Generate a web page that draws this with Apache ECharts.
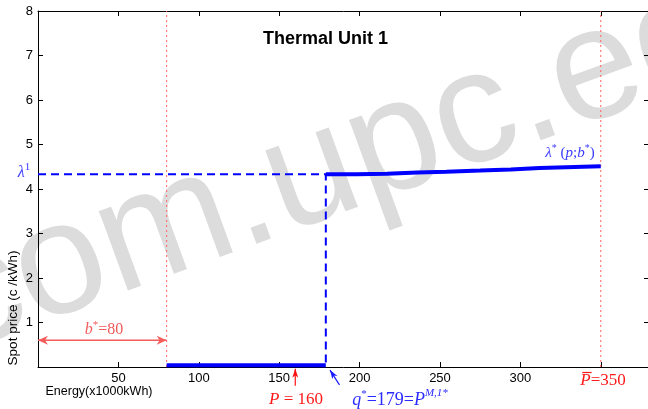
<!DOCTYPE html>
<html>
<head>
<meta charset="utf-8">
<script src="https://cdn.jsdelivr.net/npm/echarts@6/dist/echarts.min.js"></script>
<style>html,body{margin:0;padding:0;background:#fff}#c{width:648px;height:409px}</style>
</head>
<body>
<div id="c"></div>
<script>
// ---- data ----
const xTickLabels = [50, 100, 150, 200, 250, 300];
const yTickLabels = [1, 2, 3, 4, 5, 6, 7, 8];
const bStar = 80;          // b* = 80
const pMax = 350;          // P-bar = 350
const pLoad = 160;         // P = 160
const qStar = 179;         // q* = 179
const lambda1 = 4.33;      // lambda^1
const zeroLevel = 0.04;    // bid price segment (near zero)
const stepBreaks = [179, 198, 217, 236, 254, 275, 294, 312, 350];
const stepLevels = [4.33, 4.345, 4.37, 4.39, 4.415, 4.44, 4.47, 4.51];
const bArrowY = 0.6;

// step line points
const stepPts = [];
for (let i = 0; i < stepLevels.length; i++) {
  stepPts.push([stepBreaks[i], stepLevels[i]]);
  stepPts.push([stepBreaks[i + 1], stepLevels[i]]);
}

// annotation arrows (data space): x1,y1,x2,y2,headStart,headEnd
const arrows = [
  [0, bArrowY, bStar, bArrowY, 1, 1],
  [pLoad, -0.42, pLoad, -0.04, 0, 1],
  [187.5, -0.40, 181.6, -0.07, 0, 1]
];
const arrowColors = ['#f45c5c', '#ff1010', '#1a1aff'];
const arrowHeads = [[10, 4.5, 3], [9, 3, 2.5], [9, 3, 2.5]];

const chart = echarts.init(document.getElementById('c'), null, {renderer: 'canvas'});

const mctx = document.createElement('canvas').getContext('2d');
function fontStr(p) { return (p.it ? 'italic ' : '') + p.s + 'px "Liberation Serif"'; }
function mathText(cx, cy, pieces, color) {
  const w = pieces.map(p => { mctx.font = fontStr(p); return mctx.measureText(p.t).width; });
  const total = w.reduce((a, b) => a + b, 0);
  let x = cx - total / 2;
  const els = [];
  pieces.forEach((p, i) => {
    els.push({type: 'text', x: x, y: cy + (p.dy || 0), z: 100,
      style: {text: p.t, font: fontStr(p), fill: color, align: 'left', verticalAlign: 'middle'}});
    if (p.over) {
      els.push({type: 'line', z: 101, shape: {x1: x + 2, y1: cy - 8.5, x2: x + w[i] + 1, y2: cy - 8.5},
        style: {stroke: color, lineWidth: 1.2}});
    }
    x += w[i];
  });
  return els;
}

function headPoly(tip, dir, L, W, notch) {
  const nx = -dir[1], ny = dir[0];
  return [
    [tip[0], tip[1]],
    [tip[0] - dir[0] * L + nx * W, tip[1] - dir[1] * L + ny * W],
    [tip[0] - dir[0] * (L - notch), tip[1] - dir[1] * (L - notch)],
    [tip[0] - dir[0] * L - nx * W, tip[1] - dir[1] * L - ny * W]
  ];
}

const graphics = [
  {type: 'text', x: 374, y: 154, rotation: 20 * Math.PI / 180, z: -10,
   style: {text: 'com.upc.edu', font: '160px "Liberation Sans"', fill: '#dcdcdc', align: 'center', verticalAlign: 'middle'}},
  {type: 'text', x: 99, y: 392, z: 100,
   style: {text: 'Energy(x1000kWh)', font: '12.5px "Liberation Sans"', fill: '#000', align: 'center', verticalAlign: 'middle'}},
  {type: 'text', x: 13, y: 308, rotation: Math.PI / 2, z: 100,
   style: {text: 'Spot price (c /kWh)', font: '13.5px "Liberation Sans"', fill: '#000', align: 'center', verticalAlign: 'middle'}}
]
.concat(mathText(104, 330, [{t: 'b', s: 16, it: 1}, {t: '*', s: 11, dy: -5}, {t: '=80', s: 16}], '#f25a5a'))
.concat(mathText(296, 400, [{t: 'P', s: 17, it: 1}, {t: ' = 160', s: 17}], '#ff1a1a'))
.concat(mathText(400, 400, [{t: 'q', s: 18, it: 1}, {t: '*', s: 11, dy: -6}, {t: '=179=', s: 18}, {t: 'P', s: 18, it: 1}, {t: 'M,1*', s: 11, it: 1, dy: -7}], '#2b2bff'))
.concat(mathText(603, 381, [{t: 'P', s: 17, it: 1, over: 1}, {t: '=350', s: 17}], '#ff1a1a'))
.concat(mathText(24, 173, [{t: 'λ', s: 16, it: 1}, {t: '1', s: 11, dy: -6}], '#3a3aff'))
.concat(mathText(570, 153, [{t: 'λ', s: 15, it: 1}, {t: '*', s: 10, dy: -5}, {t: ' (', s: 15}, {t: 'p', s: 15, it: 1}, {t: ';', s: 15}, {t: 'b', s: 15, it: 1}, {t: '*', s: 10, dy: -5}, {t: ')', s: 15}], '#3a3aff'));

const axisCommon = {
  min: 0,
  axisLine: {show: true, onZero: false, lineStyle: {color: '#000', width: 1}},
  axisTick: {show: true, inside: true, length: 5, lineStyle: {color: '#000'}},
  splitLine: {show: false}
};

const option = {
  backgroundColor: '#fff',
  animation: false,
  title: {text: 'Thermal Unit 1', left: 258, top: 25,
    textStyle: {fontSize: 18, fontWeight: 'bold', fontFamily: 'Liberation Sans', color: '#000'}},
  grid: {left: 38, top: 11, width: 611, height: 356, containLabel: false, outerBoundsMode: 'none'},
  xAxis: [
    Object.assign({}, axisCommon, {type: 'value', position: 'bottom', max: 380, interval: 50,
      axisLabel: {show: true, margin: 5, color: '#000', fontSize: 13, fontFamily: 'Liberation Sans',
        showMaxLabel: false, showMinLabel: false,
        formatter: v => (xTickLabels.indexOf(v) >= 0 ? String(v) : '')}}),
    Object.assign({}, axisCommon, {type: 'value', position: 'top', max: 380, interval: 50, axisLabel: {show: false}})
  ],
  yAxis: [
    Object.assign({}, axisCommon, {type: 'value', position: 'left', max: 8, interval: 1,
      axisLabel: {show: true, margin: 5, color: '#000', fontSize: 13, fontFamily: 'Liberation Sans',
        formatter: v => (yTickLabels.indexOf(v) >= 0 ? String(v) : '')}}),
    Object.assign({}, axisCommon, {type: 'value', position: 'right', max: 8, interval: 1, axisLabel: {show: false}})
  ],
  graphic: graphics,
  series: [
    {type: 'line', data: [[bStar, 0], [bStar, 8]], showSymbol: false, silent: true,
     lineStyle: {color: '#ff6060', width: 1, type: [2, 3]}},
    {type: 'line', data: [[pMax, 0], [pMax, 8]], showSymbol: false, silent: true,
     lineStyle: {color: '#ff6060', width: 1, type: [2, 3]}},
    {type: 'line', data: [[0, lambda1], [qStar, lambda1], [qStar, 0]], showSymbol: false, silent: true,
     lineStyle: {color: '#0000ff', width: 2, type: [8, 5]}},
    {type: 'line', data: [[bStar, zeroLevel], [qStar, zeroLevel]], showSymbol: false, silent: true,
     lineStyle: {color: '#0000ff', width: 4}},
    {type: 'line', data: stepPts, showSymbol: false, silent: true, z: 3,
     lineStyle: {color: '#0000ff', width: 4}},
    {type: 'custom', data: arrows, clip: false, silent: true, z: 5,
     encode: {x: [0, 2], y: [1, 3]},
     renderItem: function (params, api) {
       const i = params.dataIndex;
       const p0 = api.coord([api.value(0), api.value(1)]);
       const p1 = api.coord([api.value(2), api.value(3)]);
       const dx = p1[0] - p0[0], dy = p1[1] - p0[1];
       const len = Math.sqrt(dx * dx + dy * dy);
       const d = [dx / len, dy / len];
       const col = arrowColors[i];
       const h = arrowHeads[i];
       const children = [{type: 'line', shape: {x1: p0[0], y1: p0[1], x2: p1[0], y2: p1[1]},
         style: {stroke: col, lineWidth: i === 0 ? 1.5 : 1.2}}];
       if (api.value(5)) children.push({type: 'polygon', shape: {points: headPoly(p1, d, h[0], h[1], h[2])}, style: {fill: col}});
       if (api.value(4)) children.push({type: 'polygon', shape: {points: headPoly(p0, [-d[0], -d[1]], h[0], h[1], h[2])}, style: {fill: col}});
       return {type: 'group', children: children};
     }}
  ]
};
chart.setOption(option);
</script>
</body>
</html>
